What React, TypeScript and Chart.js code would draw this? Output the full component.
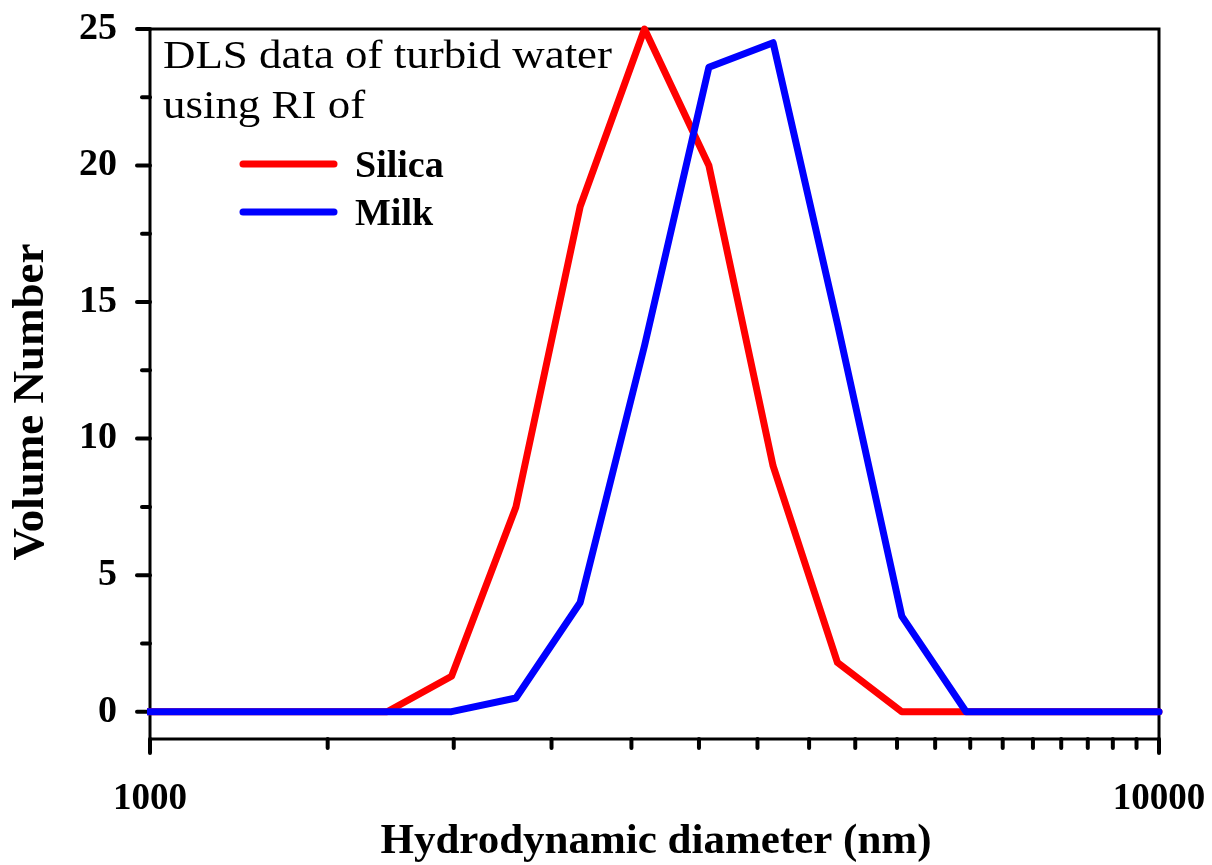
import React, { useEffect, useRef } from "react";
import { Chart, registerables } from "chart.js";

Chart.register(...registerables);

// Hydrodynamic diameter bins (nm)
const sizes = [955.4, 1106, 1281, 1484, 1718, 1990, 2305, 2669, 3091, 3580, 4145, 4801, 5560, 6439, 7456, 8635, 10000];
// Volume number, RI of silica
const silica = [0, 0, 0, 0, 0, 1.3, 7.5, 18.5, 25, 20, 9, 1.8, 0, 0, 0, 0, 0];
// Volume number, RI of milk
const milk = [0, 0, 0, 0, 0, 0, 0.5, 4, 13.4, 23.6, 24.5, 14.2, 3.5, 0, 0, 0, 0];

const yMajorTicks = [0, 5, 10, 15, 20, 25];
const yMinorTicks = [2.5, 7.5, 12.5, 17.5, 22.5];
const xMinorTicks = [1500, 2000, 2500, 3000, 3500, 4000, 4500, 5000, 5500, 6000, 6500, 7000, 7500, 8000, 8500, 9000, 9500];
const xMajorTicks = [1000, 10000];
const xLabeled = [1000, 10000];

const seriesNames = ["Silica", "Milk"];
const seriesColors = ["#ff0000", "#0000ff"];
const noteLines = ["DLS data of turbid water", "using RI of"];
const xTitle = "Hydrodynamic diameter (nm)";
const yTitle = "Volume Number";

const FONT = '"Liberation Serif", "Times New Roman", serif';

const framePlugin = {
  id: "frame",
  beforeDatasetsDraw(chart: any) {
    const { ctx, chartArea } = chart;
    const xs = chart.scales.x;
    const ys = chart.scales.y;
    ctx.save();
    ctx.strokeStyle = "#000";
    ctx.lineWidth = 3;
    ctx.lineCap = "butt";
    ctx.strokeRect(chartArea.left, chartArea.top, chartArea.right - chartArea.left, chartArea.bottom - chartArea.top);
    ctx.lineCap = "round";
    ctx.lineWidth = 4;
    for (const v of yMajorTicks) {
      const y = ys.getPixelForValue(v);
      ctx.beginPath();
      ctx.moveTo(chartArea.left, y);
      ctx.lineTo(chartArea.left - 13, y);
      ctx.stroke();
    }
    for (const v of yMinorTicks) {
      const y = ys.getPixelForValue(v);
      ctx.beginPath();
      ctx.moveTo(chartArea.left, y);
      ctx.lineTo(chartArea.left - 8, y);
      ctx.stroke();
    }
    for (const v of xMinorTicks) {
      const x = xs.getPixelForValue(v);
      ctx.beginPath();
      ctx.moveTo(x, chartArea.bottom);
      ctx.lineTo(x, chartArea.bottom + 9);
      ctx.stroke();
    }
    for (const v of xMajorTicks) {
      const x = xs.getPixelForValue(v);
      ctx.beginPath();
      ctx.moveTo(x, chartArea.bottom);
      ctx.lineTo(x, chartArea.bottom + 14);
      ctx.stroke();
    }
    ctx.restore();
  },
  afterDraw(chart: any) {
    const { ctx } = chart;
    ctx.save();
    ctx.fillStyle = "#000";
    ctx.font = `bold 43px ${FONT}`;
    ctx.textAlign = "center";
    ctx.textBaseline = "alphabetic";
    ctx.fillText(xTitle, 656, 853);
    ctx.save();
    ctx.translate(43, 402);
    ctx.rotate(-Math.PI / 2);
    ctx.font = `bold 45px ${FONT}`;
    ctx.fillText(yTitle, 0, 0);
    ctx.restore();

    ctx.font = `41px ${FONT}`;
    ctx.textAlign = "left";
    const w = ctx.measureText(noteLines[0]).width;
    const sx = 449 / w;
    ctx.save();
    ctx.translate(163, 0);
    ctx.scale(sx, 1);
    ctx.fillText(noteLines[0], 0, 68);
    ctx.fillText(noteLines[1], 0, 118);
    ctx.restore();

    const legendY = [164, 212];
    const textY = [177, 225];
    ctx.font = `bold 38px ${FONT}`;
    chart.data.datasets.forEach((ds: any, i: number) => {
      ctx.strokeStyle = ds.borderColor;
      ctx.lineWidth = 7;
      ctx.lineCap = "round";
      ctx.beginPath();
      ctx.moveTo(243, legendY[i]);
      ctx.lineTo(334, legendY[i]);
      ctx.stroke();
      ctx.fillStyle = "#000";
      ctx.fillText(ds.label, 355, textY[i]);
    });
    ctx.restore();
  },
};

const zeroPad = (s: any) => {
  s.paddingTop = 0;
  s.paddingBottom = 0;
  s.paddingLeft = 0;
  s.paddingRight = 0;
};

export default function App() {
  const ref = useRef<HTMLCanvasElement | null>(null);
  useEffect(() => {
    if (!ref.current) return;
    const mk = (vals: number[]) => sizes.map((s, i) => ({ x: s, y: vals[i] }));
    const clip = { left: 3, top: 10, right: 10, bottom: 0 } as any;
    const chart = new Chart(ref.current, {
      type: "line",
      data: {
        datasets: [
          {
            label: seriesNames[0],
            data: mk(silica),
            borderColor: seriesColors[0],
            backgroundColor: seriesColors[0],
            borderWidth: 7,
            pointRadius: 0,
            tension: 0,
            borderCapStyle: "round",
            borderJoinStyle: "round",
            order: 2,
            clip,
          },
          {
            label: seriesNames[1],
            data: mk(milk),
            borderColor: seriesColors[1],
            backgroundColor: seriesColors[1],
            borderWidth: 7,
            pointRadius: 0,
            tension: 0,
            borderCapStyle: "round",
            borderJoinStyle: "round",
            order: 1,
            clip,
          },
        ],
      },
      options: {
        responsive: false,
        animation: false,
        layout: { padding: { left: 0, top: 29, right: 53, bottom: 0 } },
        plugins: { legend: { display: false }, tooltip: { enabled: false } },
        scales: {
          x: {
            type: "logarithmic",
            min: 1000,
            max: 10000,
            grid: { display: false, drawTicks: false },
            border: { display: false },
            ticks: {
              autoSkip: false,
              maxRotation: 0,
              padding: 38,
              color: "#000",
              font: { family: FONT, size: 37, weight: "bold" },
              callback: (v: any) => (xLabeled.includes(Number(v)) ? String(v) : ""),
            },
            afterFit: (s: any) => {
              s.height = 126;
              zeroPad(s);
            },
          },
          y: {
            type: "linear",
            min: -1,
            max: 25,
            grid: { display: false, drawTicks: false },
            border: { display: false },
            afterBuildTicks: (s: any) => {
              s.ticks = yMajorTicks.map((v) => ({ value: v }));
            },
            ticks: {
              padding: 33,
              color: "#000",
              font: { family: FONT, size: 38, weight: "bold" },
            },
            afterFit: (s: any) => {
              s.width = 150;
              zeroPad(s);
            },
          },
        },
      },
      plugins: [framePlugin],
    });
    return () => chart.destroy();
  }, []);
  return (
    <div style={{ position: "absolute", left: 0, top: 0, width: 1212, height: 865, background: "#fff" }}>
      <canvas ref={ref} width={1212} height={865} style={{ display: "block" }} />
    </div>
  );
}
